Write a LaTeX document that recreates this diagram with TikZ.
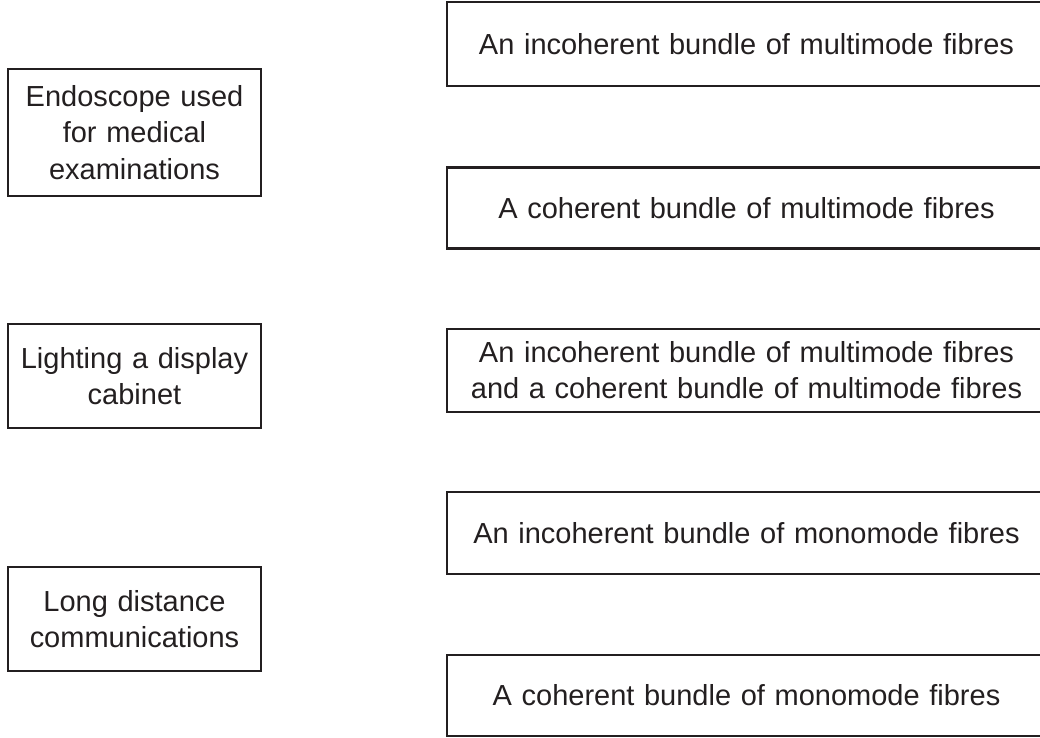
\documentclass[tikz,border=0pt]{standalone}
\usepackage{fontspec}
\setmainfont{Liberation Sans}
\usetikzlibrary{positioning}
\definecolor{ink}{RGB}{35,31,32}

\begin{document}
\begin{tikzpicture}[
  box/.style={
    draw=ink,
    line width=1.4pt,
    text=ink,
    align=center,
    inner sep=0pt,
    font=\fontsize{16.5pt}{20.6pt}\selectfont
  },
  use/.style={
    box,
    text width=4.9cm,
    minimum width=5.06cm
  },
  fibre/.style={
    box,
    text width=11.6cm,
    minimum width=11.98cm
  }
]
  \useasboundingbox (0,0) rectangle (20.8,-14.76);

  % uses, left column
  \node[use,minimum height=2.54cm] (endoscope) at (2.69,-2.65)
    {Endoscope used\\for medical\\examinations};
  \node[use,minimum height=2.08cm] (cabinet) at (2.69,-7.52)
    {Lighting a display\\cabinet};
  \node[use,minimum height=2.08cm] (long-distance) at (2.69,-12.38)
    {Long distance\\communications};

  % fibre bundles, right column
  \node[fibre,minimum height=1.68cm] (inc-multi) at (14.93,-0.88)
    {An incoherent bundle of multimode fibres};
  \node[fibre,minimum height=1.62cm] (coh-multi) at (14.93,-4.16)
    {A coherent bundle of multimode fibres};
  \node[fibre,minimum height=1.66cm] (both-multi) at (14.93,-7.41)
    {An incoherent bundle of multimode fibres\\and a coherent bundle of multimode fibres};
  \node[fibre,minimum height=1.64cm] (inc-mono) at (14.93,-10.66)
    {An incoherent bundle of monomode fibres};
  \node[fibre,minimum height=1.63cm] (coh-mono) at (14.93,-13.91)
    {A coherent bundle of monomode fibres};
\end{tikzpicture}
\end{document}
